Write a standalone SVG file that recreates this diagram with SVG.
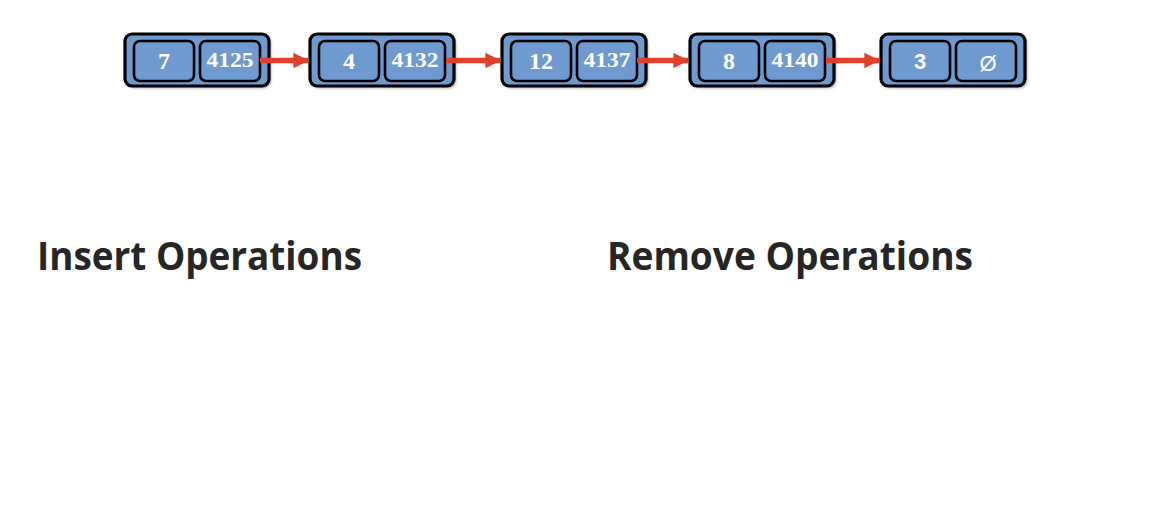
<svg xmlns="http://www.w3.org/2000/svg" width="1174" height="528" viewBox="0 0 1174 528">
<defs>
<style>
.outer{fill:#6F9AD0;stroke:#000;stroke-width:3.2}
.cell{fill:#6F9AD0;stroke:#000;stroke-width:2.6}
.num{font-family:"Liberation Sans",serif;font-weight:bold;fill:#fff;text-anchor:middle}
.num{font-family:"Liberation Serif",serif}
.big{font-size:24px}
.addr{font-size:20px}
.sans{font-family:"Liberation Sans",Arial,sans-serif;fill:#fff;text-anchor:middle;font-size:22px}
.conn{stroke:#E2402A;stroke-width:5.5;fill:none}
.head{font-family:"Open Sans","Noto Sans",sans-serif;font-weight:bold;font-size:40px;fill:#262626}
</style>
<marker id="ah" viewBox="0 0 10 10" refX="9.5" refY="5" markerWidth="2.8" markerHeight="3.1" orient="auto" markerUnits="strokeWidth">
<path d="M0,0 L10,5 L0,10 z" fill="#E2402A"/>
</marker>
<filter id="sh" x="-10%" y="-20%" width="130%" height="150%">
<feGaussianBlur stdDeviation="1.5"/>
</filter>
</defs>
<rect width="1174" height="528" fill="#fff"/>

<g id="node1">
<rect x="127" y="36" width="144" height="52" rx="7" fill="#000" opacity="0.35" filter="url(#sh)"/>
<rect class="outer" x="125" y="34" width="144" height="52" rx="7"/>
<rect class="cell" x="134" y="41" width="60" height="40" rx="6"/>
<rect class="cell" x="200" y="41" width="60" height="40" rx="6"/>
<text class="num big" x="164" y="69">7</text>
<text class="num addr" x="230" y="67" textLength="47" lengthAdjust="spacingAndGlyphs">4125</text>
</g>

<g id="node2">
<rect x="312" y="36" width="144" height="52" rx="7" fill="#000" opacity="0.35" filter="url(#sh)"/>
<rect class="outer" x="310" y="34" width="144" height="52" rx="7"/>
<rect class="cell" x="319" y="41" width="60" height="40" rx="6"/>
<rect class="cell" x="385" y="41" width="60" height="40" rx="6"/>
<text class="num big" x="349" y="69">4</text>
<text class="num addr" x="415" y="67" textLength="47" lengthAdjust="spacingAndGlyphs">4132</text>
</g>

<g id="node3">
<rect x="504" y="36" width="144" height="52" rx="7" fill="#000" opacity="0.35" filter="url(#sh)"/>
<rect class="outer" x="502" y="34" width="144" height="52" rx="7"/>
<rect class="cell" x="511" y="41" width="60" height="40" rx="6"/>
<rect class="cell" x="577" y="41" width="60" height="40" rx="6"/>
<text class="num big" x="541" y="69">12</text>
<text class="num addr" x="607" y="67" textLength="47" lengthAdjust="spacingAndGlyphs">4137</text>
</g>

<g id="node4">
<rect x="692" y="36" width="144" height="52" rx="7" fill="#000" opacity="0.35" filter="url(#sh)"/>
<rect class="outer" x="690" y="34" width="144" height="52" rx="7"/>
<rect class="cell" x="699" y="41" width="60" height="40" rx="6"/>
<rect class="cell" x="765" y="41" width="60" height="40" rx="6"/>
<text class="num big" x="729" y="69">8</text>
<text class="num addr" x="795" y="67" textLength="47" lengthAdjust="spacingAndGlyphs">4140</text>
</g>

<g id="node5">
<rect x="883" y="36" width="144" height="52" rx="7" fill="#000" opacity="0.35" filter="url(#sh)"/>
<rect class="outer" x="881" y="34" width="144" height="52" rx="7"/>
<rect class="cell" x="890" y="41" width="60" height="40" rx="6"/>
<rect class="cell" x="956" y="41" width="60" height="40" rx="6"/>
<text class="sans" x="920" y="69" font-weight="bold">3</text>
<text class="sans" x="988" y="71" font-size="27">Ø</text>
</g>

<g id="connectors">
<line class="conn" x1="260" y1="60.5" x2="308" y2="60.5" marker-end="url(#ah)"/>
<line class="conn" x1="446" y1="60.5" x2="500" y2="60.5" marker-end="url(#ah)"/>
<line class="conn" x1="637" y1="60.5" x2="688" y2="60.5" marker-end="url(#ah)"/>
<line class="conn" x1="826" y1="60.5" x2="879" y2="60.5" marker-end="url(#ah)"/>
</g>

<g id="headings">
<text class="head" x="37" y="270" textLength="325" lengthAdjust="spacingAndGlyphs">Insert Operations</text>
<text class="head" x="607" y="270" textLength="366" lengthAdjust="spacingAndGlyphs">Remove Operations</text>
</g>
</svg>
